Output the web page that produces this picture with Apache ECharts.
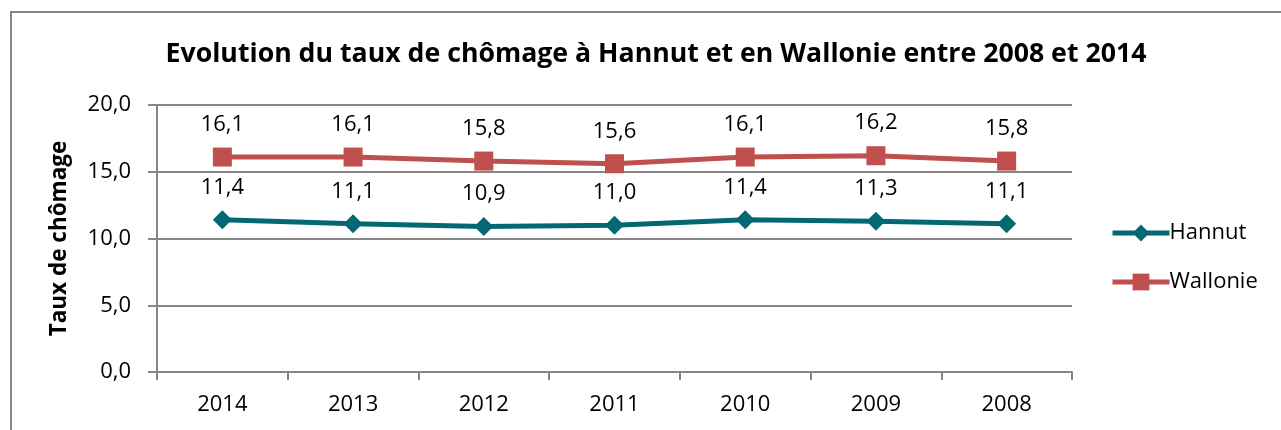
<!DOCTYPE html>
<html>
<head>
<meta charset="utf-8">
<script src="https://cdn.jsdelivr.net/npm/echarts@6/dist/echarts.min.js"></script>
<style>
  html, body { margin: 0; padding: 0; background: #fff; }
  #chart { width: 1281px; height: 430px; }
</style>
</head>
<body>
<div id="chart"></div>
<script>
// Unemployment rate, Hannut vs Wallonia (years shown newest first)
const years = ['2014', '2013', '2012', '2011', '2010', '2009', '2008'];
const hannut = [11.4, 11.1, 10.9, 11.0, 11.4, 11.3, 11.1];
const wallonie = [16.1, 16.1, 15.8, 15.6, 16.1, 16.2, 15.8];
const yTicks = [0, 5, 10, 15, 20];

const FONT = '"Open Sans", "Noto Sans", sans-serif';
const GREY = '#868686';
const fr = v => Number(v).toFixed(1).replace('.', ',');

const chart = echarts.init(document.getElementById('chart'), null, { renderer: 'canvas' });

const labelStyle = {
  show: true,
  position: 'top',
  distance: 12,
  color: '#000',
  fontFamily: FONT,
  fontSize: 22,
  lineHeight: 22,
  formatter: p => fr(p.value)
};

chart.setOption({
  animation: false,
  backgroundColor: '#fff',
  graphic: [{
    type: 'rect',
    shape: { x: 11, y: 12, width: 1400, height: 600 },
    style: { fill: 'none', stroke: GREY, lineWidth: 2 },
    silent: true
  }],
  title: {
    text: 'Evolution du taux de chômage à Hannut et en Wallonie entre 2008 et 2014',
    left: 651,
    textAlign: 'center',
    top: 36,
    textStyle: { fontFamily: FONT, fontSize: 26.7, fontWeight: 'bold', color: '#000' }
  },
  legend: {
    orient: 'vertical',
    left: 1110,
    top: 222,
    padding: 0,
    itemWidth: 57,
    itemHeight: 21,
    itemGap: 27,
    lineStyle: { width: 5 },
    textStyle: { fontFamily: FONT, fontSize: 22, color: '#000', padding: [0, 0, 0, -5] },
    data: ['Hannut', 'Wallonie']
  },
  grid: { left: 157, right: 209, top: 105, bottom: 58, containLabel: false },
  xAxis: {
    type: 'category',
    data: years,
    boundaryGap: true,
    axisLine: { lineStyle: { color: GREY, width: 2 } },
    axisTick: { show: true, length: 8, lineStyle: { color: GREY, width: 2 } },
    axisLabel: { color: '#000', fontFamily: FONT, fontSize: 22, margin: 22 }
  },
  yAxis: {
    type: 'value',
    min: yTicks[0],
    max: yTicks[yTicks.length - 1],
    interval: yTicks[1] - yTicks[0],
    name: 'Taux de chômage',
    nameLocation: 'middle',
    nameGap: 86,
    nameTextStyle: { fontFamily: FONT, fontSize: 22.5, fontWeight: 'bold', color: '#000' },
    axisLine: { show: true, lineStyle: { color: GREY, width: 2 } },
    axisTick: { show: true, length: 9, lineStyle: { color: GREY, width: 2 } },
    splitLine: { show: true, lineStyle: { color: GREY, width: 2 } },
    axisLabel: { color: '#000', fontFamily: FONT, fontSize: 22, margin: 26, formatter: v => fr(v) }
  },
  series: [
    {
      name: 'Hannut',
      type: 'line',
      data: hannut,
      symbol: 'diamond',
      symbolSize: 19,
      showAllSymbol: true,
      itemStyle: { color: '#036874' },
      lineStyle: { color: '#036874', width: 5 },
      label: labelStyle
    },
    {
      name: 'Wallonie',
      type: 'line',
      data: wallonie,
      symbol: 'rect',
      symbolSize: 19,
      showAllSymbol: true,
      itemStyle: { color: '#C0504D' },
      lineStyle: { color: '#C0504D', width: 5 },
      label: labelStyle
    }
  ]
});
</script>
</body>
</html>
